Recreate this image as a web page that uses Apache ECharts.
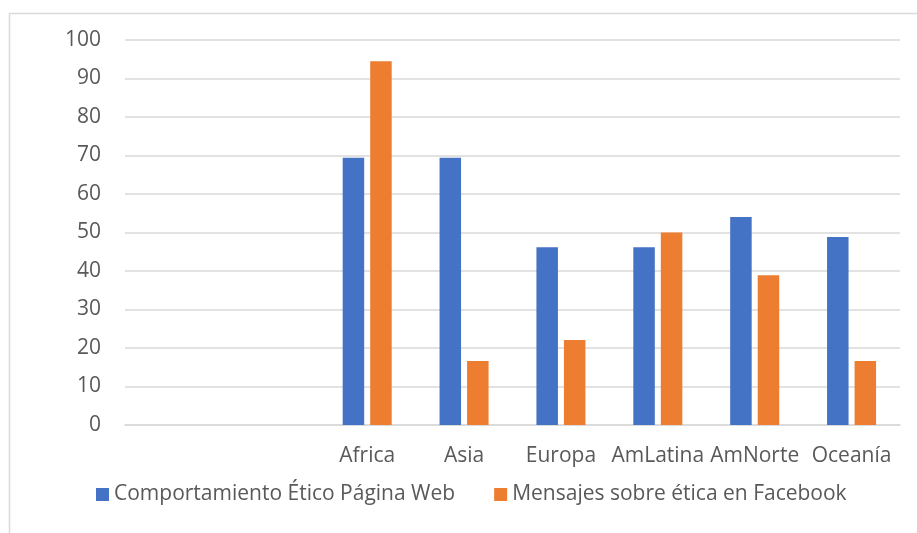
<!DOCTYPE html>
<html>
<head>
<meta charset="utf-8">
<script src="https://cdn.jsdelivr.net/npm/echarts@6/dist/echarts.min.js"></script>
<style>
    html, body { margin: 0; padding: 0; background: #fff; }
    #barChart { width: 917px; height: 533px; }
</style>
</head>
<body>
<div id="barChart"></div>
<script>
// Categorías (las dos primeras vacías, como en el original)
const categories = ['', '', 'Africa', 'Asia', 'Europa', 'AmLatina', 'AmNorte', 'Oceanía'];
const seriesNames = ['Comportamiento Ético Página Web', 'Mensajes sobre ética en Facebook'];
const webValues = [null, null, 69.4, 69.4, 46.2, 46.2, 54.0, 48.8];
const facebookValues = [null, null, 94.5, 16.6, 22.1, 50.0, 38.9, 16.6];
const yTicks = [0, 100, 10]; // min, max, intervalo

const textColor = '#595959';
const fontFamily = '"Open Sans", sans-serif';
const fontSize = 21;

function initBarChart() {
    const chartDom = document.getElementById('barChart');
    if (!chartDom) return;

    const chart = echarts.init(chartDom);

    const option = {
        animation: false,
        textStyle: {
            fontFamily: fontFamily,
            color: textColor
        },
        graphic: [
            {
                // marco del gráfico
                type: 'rect',
                left: 7,
                top: 11,
                shape: { width: 1000, height: 600 },
                style: { fill: 'none', stroke: '#d9d9d9', lineWidth: 1.5 },
                silent: true
            }
        ],
        grid: {
            left: 125,
            right: 17,
            top: 40,
            bottom: 108
        },
        legend: {
            bottom: 28,
            left: 96,
            padding: 0,
            itemWidth: 13,
            itemHeight: 13,
            itemGap: 39,
            icon: 'rect',
            textStyle: {
                fontSize: fontSize,
                fontFamily: fontFamily,
                color: textColor
            },
            data: seriesNames
        },
        xAxis: {
            type: 'category',
            data: categories,
            axisLine: { show: true, lineStyle: { color: '#d9d9d9', width: 1.5 } },
            axisTick: { show: false },
            axisLabel: {
                fontSize: fontSize,
                color: textColor,
                fontFamily: fontFamily,
                margin: 21,
                interval: 0
            }
        },
        yAxis: {
            type: 'value',
            min: yTicks[0],
            max: yTicks[1],
            interval: yTicks[2],
            axisLine: { show: false },
            axisTick: { show: false },
            axisLabel: {
                fontSize: fontSize,
                color: textColor,
                fontFamily: fontFamily,
                margin: 24
            },
            splitLine: { lineStyle: { color: '#d9d9d9', width: 1.5 } }
        },
        series: [
            {
                name: seriesNames[0],
                type: 'bar',
                data: webValues,
                barWidth: 21.5,
                barGap: '28%',
                itemStyle: { color: '#4472C4' }
            },
            {
                name: seriesNames[1],
                type: 'bar',
                data: facebookValues,
                barWidth: 21.5,
                barGap: '28%',
                itemStyle: { color: '#ED7D31' }
            }
        ]
    };

    chart.setOption(option);
}

document.addEventListener('DOMContentLoaded', function () {
    if (typeof echarts !== 'undefined') {
        initBarChart();
    }
});
</script>
</body>
</html>
